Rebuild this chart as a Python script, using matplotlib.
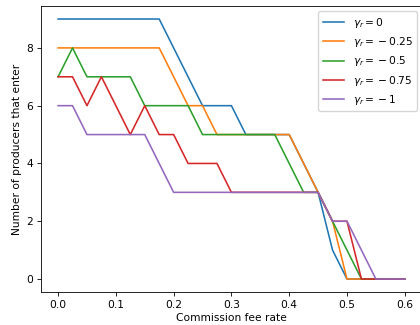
import matplotlib
matplotlib.use("Agg")
import matplotlib.pyplot as plt
import numpy as np

# commission fee grid, step 0.025
fee_rate = np.round(np.arange(0, 0.6001, 0.025), 3)

gamma_labels = [r"$\gamma_r = 0$", r"$\gamma_r = {} - 0.25$", r"$\gamma_r = {} - 0.5$",
                r"$\gamma_r = {} - 0.75$", r"$\gamma_r = {} - 1$"]

n_gamma_0 = [9, 9, 9, 9, 9, 9, 9, 9, 8, 7, 6, 6, 6, 5, 5, 5, 5, 4, 3, 1, 0, 0, 0, 0, 0]
n_gamma_025 = [8, 8, 8, 8, 8, 8, 8, 8, 7, 6, 6, 5, 5, 5, 5, 5, 5, 4, 3, 2, 0, 0, 0, 0, 0]
n_gamma_05 = [7, 8, 7, 7, 7, 7, 6, 6, 6, 6, 5, 5, 5, 5, 5, 5, 4, 3, 3, 2, 1, 0, 0, 0, 0]
n_gamma_075 = [7, 7, 6, 7, 6, 5, 6, 5, 5, 4, 4, 4, 3, 3, 3, 3, 3, 3, 3, 2, 2, 0, 0, 0, 0]
n_gamma_1 = [6, 6, 5, 5, 5, 5, 5, 4, 3, 3, 3, 3, 3, 3, 3, 3, 3, 3, 3, 2, 2, 1, 0, 0, 0]

series = [n_gamma_0, n_gamma_025, n_gamma_05, n_gamma_075, n_gamma_1]

fs = 7.7
fig = plt.figure(figsize=(4.2, 3.25), dpi=100)
ax = fig.add_axes([0.097, 0.1015, 0.908, 0.88])

for lab, vals in zip(gamma_labels, series):
    ax.plot(fee_rate, vals, lw=1.15, label=lab)

ax.set_xlabel("Commission fee rate", fontsize=fs, labelpad=2.5)
ax.set_ylabel("Number of producers that enter", fontsize=fs, labelpad=3)
ax.set_xticks([0.0, 0.1, 0.2, 0.3, 0.4, 0.5, 0.6])
ax.set_yticks([0, 2, 4, 6, 8])
ax.tick_params(labelsize=fs, length=2.7, width=0.6, pad=2.7)
for s in ax.spines.values():
    s.set_linewidth(0.6)
ax.legend(fontsize=fs, loc="upper right", handlelength=2.0, borderpad=0.4,
          labelspacing=0.5)

fig.savefig("out.png", dpi=100)
